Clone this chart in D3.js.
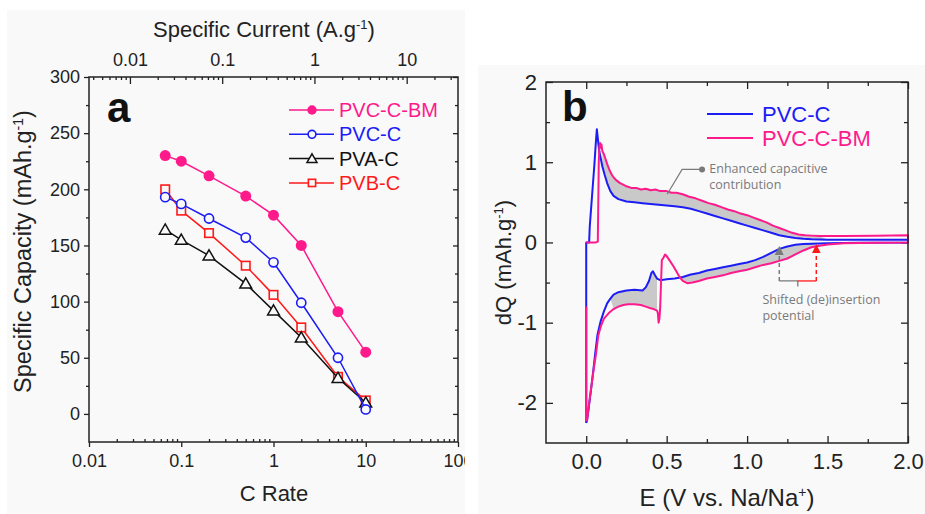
<!DOCTYPE html>
<html>
<head>
<meta charset="utf-8">
<script src="https://cdn.jsdelivr.net/npm/d3@7"></script>
<style>
  body { margin: 0; background: #fff; }
  svg { display: block; font-family: "Liberation Sans", Arial, sans-serif; }
</style>
</head>
<body>
<svg id="chart" width="925" height="514"></svg>
<script>
// ---- panel a: rate capability ----
const cRates = [0.067, 0.1, 0.2, 0.5, 1, 2, 5, 10];
const capBM = [230, 225, 212, 194, 177, 150, 91, 55];
const capPVC = [193, 187, 174, 157, 135, 99, 50, 4];
const capPVA = [164, 155, 141, 116, 92, 68, 32, 10];
const capPVB = [200, 181, 161, 132, 106, 77, 33, 12];
const rateTicks = [0.01, 0.1, 1, 10, 100];
const currentTicks = [0.01, 0.1, 1, 10];
const capTicks = [0, 50, 100, 150, 200, 250, 300];

// ---- panel b: dQ curves (E in V, dQ in mAh/g) ----
const pvcCharge = [[0, -2.25], [0, 0], [0.018, 0], [0.022, 0.2], [0.035, 0.55], [0.05, 0.95], [0.06, 1.25], [0.066, 1.41],
  [0.072, 1.3], [0.08, 1.15], [0.09, 1.05], [0.1, 0.95], [0.115, 0.84], [0.13, 0.74], [0.15, 0.64], [0.17, 0.58],
  [0.2, 0.54], [0.25, 0.51], [0.3, 0.5], [0.35, 0.49], [0.4, 0.48], [0.45, 0.47], [0.5, 0.46], [0.55, 0.45],
  [0.6, 0.44], [0.65, 0.42], [0.7, 0.39], [0.75, 0.36], [0.8, 0.33], [0.85, 0.3], [0.9, 0.27], [0.95, 0.24],
  [1.0, 0.21], [1.05, 0.18], [1.1, 0.15], [1.15, 0.12], [1.2, 0.09], [1.25, 0.07], [1.3, 0.055], [1.35, 0.045],
  [1.4, 0.04], [1.5, 0.035], [1.7, 0.035], [2.0, 0.035]];
const pvcDischarge = [[2.0, 0], [1.7, -0.005], [1.5, -0.01], [1.4, -0.015], [1.35, -0.02], [1.3, -0.03], [1.25, -0.05],
  [1.2, -0.08], [1.15, -0.13], [1.1, -0.18], [1.05, -0.22], [1.0, -0.25], [0.95, -0.27], [0.9, -0.29], [0.85, -0.31],
  [0.8, -0.33], [0.75, -0.35], [0.7, -0.38], [0.65, -0.4], [0.6, -0.43], [0.55, -0.45], [0.5, -0.46], [0.46, -0.47],
  [0.44, -0.45], [0.425, -0.4], [0.415, -0.36], [0.405, -0.38], [0.39, -0.48], [0.37, -0.56], [0.35, -0.6],
  [0.3, -0.59], [0.25, -0.6], [0.2, -0.62], [0.17, -0.65], [0.15, -0.7], [0.13, -0.76], [0.11, -0.86], [0.09, -0.98],
  [0.07, -1.15], [0.055, -1.4], [0.045, -1.58], [0.035, -1.75], [0.025, -1.91], [0.015, -2.07], [0.005, -2.22], [0, -2.25]];
const bmCharge = [[0, 0], [0.03, 0], [0.06, 0], [0.072, 0.01], [0.075, 0.5], [0.078, 1.0], [0.082, 1.2], [0.086, 1.24],
  [0.09, 1.18], [0.095, 1.22], [0.1, 1.14], [0.11, 1.1], [0.12, 1.04], [0.13, 0.98], [0.145, 0.9], [0.16, 0.84],
  [0.175, 0.8], [0.19, 0.77], [0.21, 0.74], [0.23, 0.72], [0.25, 0.7], [0.28, 0.68], [0.31, 0.68], [0.34, 0.66],
  [0.37, 0.67], [0.4, 0.65], [0.43, 0.66], [0.46, 0.64], [0.5, 0.64], [0.53, 0.62], [0.56, 0.62], [0.6, 0.6],
  [0.64, 0.57], [0.68, 0.55], [0.72, 0.52], [0.76, 0.49], [0.8, 0.47], [0.84, 0.44], [0.88, 0.41], [0.92, 0.39],
  [0.96, 0.36], [1.0, 0.34], [1.04, 0.31], [1.08, 0.28], [1.12, 0.25], [1.16, 0.21], [1.2, 0.18], [1.24, 0.15],
  [1.28, 0.12], [1.32, 0.1], [1.36, 0.09], [1.4, 0.085], [1.45, 0.08], [1.6, 0.08], [1.8, 0.085], [2.0, 0.09]];
const bmDischarge = [[2.0, 0], [1.8, -0.005], [1.6, -0.01], [1.5, -0.025], [1.45, -0.04], [1.4, -0.06], [1.35, -0.1],
  [1.3, -0.15], [1.25, -0.2], [1.2, -0.23], [1.15, -0.26], [1.1, -0.28], [1.05, -0.31], [1.0, -0.34], [0.95, -0.36],
  [0.9, -0.38], [0.85, -0.41], [0.8, -0.43], [0.75, -0.45], [0.7, -0.48], [0.66, -0.5], [0.63, -0.51], [0.6, -0.48],
  [0.58, -0.43], [0.56, -0.36], [0.54, -0.29], [0.52, -0.23], [0.5, -0.17], [0.49, -0.15], [0.48, -0.19], [0.47, -0.22],
  [0.465, -0.5], [0.46, -0.8], [0.455, -0.95], [0.45, -1.0], [0.445, -0.88], [0.44, -0.85], [0.42, -0.83], [0.4, -0.82],
  [0.37, -0.8], [0.34, -0.78], [0.3, -0.77], [0.26, -0.77], [0.23, -0.78], [0.2, -0.8], [0.17, -0.83], [0.14, -0.88],
  [0.11, -0.95], [0.09, -1.05], [0.075, -1.16], [0.06, -1.4], [0.045, -1.6], [0.035, -1.75], [0.025, -1.9],
  [0.014, -2.07], [0.005, -2.22], [0, -2.2], [0, -0.8]];
const eTicks = [0, 0.5, 1, 1.5, 2];
const dqTicks = [-2, -1, 0, 1, 2];

const pink = '#ff1a8c';
const blue = '#1c1cf5';
const red = '#ff1a1a';

const svg = d3.select('#chart');

// light panel backgrounds
svg.append('rect').attr('x', 7).attr('y', 10).attr('width', 458).attr('height', 504).attr('fill', '#f9f9f9');
svg.append('rect').attr('x', 478).attr('y', 65).attr('width', 447).attr('height', 449).attr('fill', '#f9f9f9');

// ================= panel a =================
const A = { left: 89, right: 458, top: 77, bottom: 442 };
const xA = d3.scaleLog().domain([0.01, 100]).range([A.left, A.right]);
const xTop = d3.scaleLog().domain([0.0036, 36]).range([A.left, A.right]);
const yA = d3.scaleLinear().domain([-25, 300]).range([A.bottom, A.top]);

svg.append('clipPath').attr('id', 'clipA')
  .append('rect').attr('x', 0).attr('y', 0).attr('width', 465).attr('height', 514);
const ga = svg.append('g').attr('clip-path', 'url(#clipA)');

function minorLog(scale) {
  const [a, b] = scale.domain();
  return scale.ticks().filter((t) => t > a && t < b && Math.abs(Math.log10(t) % 1) > 1e-6);
}

function styleAxis(g, size) {
  g.select('.domain').remove();
  g.selectAll('line').attr('stroke', '#222').attr('stroke-width', 1.3);
  g.selectAll('text').attr('font-size', size).attr('fill', '#222').attr('font-family', null);
}

// bottom
ga.append('g').attr('transform', `translate(0,${A.bottom})`)
  .call(d3.axisBottom(xA).tickValues(rateTicks).tickFormat(d3.format('~g')).tickSize(5).tickPadding(7))
  .call((g) => styleAxis(g, 18));
ga.append('g').attr('transform', `translate(0,${A.bottom})`)
  .call(d3.axisBottom(xA).tickValues(minorLog(xA)).tickFormat('').tickSize(-3))
  .call((g) => styleAxis(g, 18));
// top
ga.append('g').attr('transform', `translate(0,${A.top})`)
  .call(d3.axisTop(xTop).tickValues(currentTicks).tickFormat(d3.format('~g')).tickSize(-7).tickPadding(11))
  .call((g) => styleAxis(g, 18));
ga.append('g').attr('transform', `translate(0,${A.top})`)
  .call(d3.axisTop(xTop).tickValues(minorLog(xTop)).tickFormat('').tickSize(-3))
  .call((g) => styleAxis(g, 18));
// left
ga.append('g').attr('transform', `translate(${A.left},0)`)
  .call(d3.axisLeft(yA).tickValues(capTicks).tickSize(5).tickPadding(4))
  .call((g) => styleAxis(g, 18));
ga.append('g').attr('transform', `translate(${A.left},0)`)
  .call(d3.axisLeft(yA).tickValues(capTicks.slice(1).map((v) => v - 25)).tickFormat('').tickSize(3))
  .call((g) => styleAxis(g, 18));
// right
ga.append('g').attr('transform', `translate(${A.right},0)`)
  .call(d3.axisRight(yA).tickValues(capTicks).tickFormat('').tickSize(-5))
  .call((g) => styleAxis(g, 18));
ga.append('g').attr('transform', `translate(${A.right},0)`)
  .call(d3.axisRight(yA).tickValues(capTicks.slice(1).map((v) => v - 25)).tickFormat('').tickSize(-3))
  .call((g) => styleAxis(g, 18));

ga.append('rect').attr('x', A.left).attr('y', A.top)
  .attr('width', A.right - A.left).attr('height', A.bottom - A.top)
  .attr('fill', 'none').attr('stroke', '#222').attr('stroke-width', 1.5);

// axis titles
ga.append('text').attr('x', 264).attr('y', 37).attr('text-anchor', 'middle')
  .attr('font-size', 22).attr('fill', '#222')
  .call((t) => {
    t.append('tspan').text('Specific Current (A.g');
    t.append('tspan').attr('dy', -8).attr('font-size', 13).text('-1');
    t.append('tspan').attr('dy', 8).text(')');
  });
ga.append('text').attr('x', 274).attr('y', 501).attr('text-anchor', 'middle')
  .attr('font-size', 22).attr('fill', '#222').text('C Rate');
ga.append('text').attr('transform', `translate(31,${(A.top + A.bottom) / 2 - 8}) rotate(-90)`)
  .attr('text-anchor', 'middle').attr('font-size', 23.5).attr('fill', '#222')
  .call((t) => {
    t.append('tspan').text('Specific Capacity (mAh.g');
    t.append('tspan').attr('dy', -8).attr('font-size', 14).text('-1');
    t.append('tspan').attr('dy', 8).text(')');
  });
ga.append('text').attr('x', 107).attr('y', 122).attr('font-size', 42)
  .attr('font-weight', 'bold').attr('fill', '#111').text('a');

const seriesA = [
  { name: 'PVC-C-BM', values: capBM, color: pink, shape: 'dot' },
  { name: 'PVC-C', values: capPVC, color: blue, shape: 'circle' },
  { name: 'PVA-C', values: capPVA, color: '#111', shape: 'triangle' },
  { name: 'PVB-C', values: capPVB, color: red, shape: 'square' },
];

function drawMarker(g, shape, color, x, y, scale) {
  const k = scale || 1;
  if (shape === 'dot') {
    g.append('circle').attr('cx', x).attr('cy', y).attr('r', 5.5 * k).attr('fill', color);
  } else if (shape === 'circle') {
    g.append('circle').attr('cx', x).attr('cy', y).attr('r', 4.6 * k)
      .attr('fill', '#f9f9f9').attr('stroke', color).attr('stroke-width', 1.6);
  } else if (shape === 'square') {
    const s = 8.5 * k;
    g.append('rect').attr('x', x - s / 2).attr('y', y - s / 2).attr('width', s).attr('height', s)
      .attr('fill', '#f9f9f9').attr('stroke', color).attr('stroke-width', 1.6);
  } else {
    g.append('path').attr('d', d3.symbol(d3.symbolTriangle, 60 * k * k)())
      .attr('transform', `translate(${x},${y + 1})`)
      .attr('fill', '#f9f9f9').attr('stroke', color).attr('stroke-width', 1.5);
  }
}

const lineA = d3.line().x((d) => xA(d[0])).y((d) => yA(d[1]));
// draw back to front so PVC-C-BM sits on top
seriesA.slice().reverse().forEach((s) => {
  const pts = cRates.map((c, i) => [c, s.values[i]]);
  ga.append('path').attr('d', lineA(pts)).attr('fill', 'none')
    .attr('stroke', s.color).attr('stroke-width', 1.5);
  const mg = ga.append('g');
  pts.forEach((p) => drawMarker(mg, s.shape, s.color, xA(p[0]), yA(p[1])));
});

// legend a
seriesA.forEach((s, i) => {
  const y = 110 + i * 24.3;
  ga.append('line').attr('x1', 289).attr('x2', 334).attr('y1', y).attr('y2', y)
    .attr('stroke', s.color).attr('stroke-width', 1.5);
  drawMarker(ga, s.shape, s.color, 312, y, 0.85);
  ga.append('text').attr('x', 339).attr('y', y + 7).attr('font-size', 20)
    .attr('fill', s.color).text(s.name);
});

// ================= panel b =================
const B = { left: 546, right: 908, top: 82, bottom: 443 };
const xB = d3.scaleLinear().domain([-0.25, 2.0]).range([B.left, B.right]);
const yB = d3.scaleLinear().domain([-2.5, 2]).range([B.bottom, B.top]);
const gb = svg.append('g');

const eMinor = [0.25, 0.75, 1.25, 1.75];
const dqMinor = [-1.5, -0.5, 0.5, 1.5];
gb.append('g').attr('transform', `translate(0,${B.bottom})`)
  .call(d3.axisBottom(xB).tickValues(eTicks).tickFormat(d3.format('.1f')).tickSize(-7).tickPadding(10))
  .call((g) => styleAxis(g, 22));
gb.append('g').attr('transform', `translate(0,${B.bottom})`)
  .call(d3.axisBottom(xB).tickValues(eMinor).tickFormat('').tickSize(-4))
  .call((g) => styleAxis(g, 22));
gb.append('g').attr('transform', `translate(0,${B.top})`)
  .call(d3.axisTop(xB).tickValues(eTicks).tickFormat('').tickSize(-7))
  .call((g) => styleAxis(g, 22));
gb.append('g').attr('transform', `translate(0,${B.top})`)
  .call(d3.axisTop(xB).tickValues(eMinor).tickFormat('').tickSize(-4))
  .call((g) => styleAxis(g, 22));
gb.append('g').attr('transform', `translate(${B.left},0)`)
  .call(d3.axisLeft(yB).tickValues(dqTicks).tickFormat((d) => String(d)).tickSize(-7).tickPadding(9))
  .call((g) => styleAxis(g, 22));
gb.append('g').attr('transform', `translate(${B.left},0)`)
  .call(d3.axisLeft(yB).tickValues(dqMinor).tickFormat('').tickSize(-4))
  .call((g) => styleAxis(g, 22));
gb.append('g').attr('transform', `translate(${B.right},0)`)
  .call(d3.axisRight(yB).tickValues(dqTicks).tickFormat('').tickSize(-7))
  .call((g) => styleAxis(g, 22));
gb.append('g').attr('transform', `translate(${B.right},0)`)
  .call(d3.axisRight(yB).tickValues(dqMinor).tickFormat('').tickSize(-4))
  .call((g) => styleAxis(g, 22));

// grey shaded differences
const lineB = d3.line().x((d) => xB(d[0])).y((d) => yB(d[1]));
const within = (arr, lo, hi) => arr.filter((d) => d[0] >= lo && d[0] <= hi);
const shade = [
  within(bmCharge, 0.1, 1.5).concat(within(pvcCharge, 0.1, 1.5).reverse()),
  within(pvcDischarge, 0.15, 0.44).concat(within(bmDischarge, 0.15, 0.44).reverse()),
  within(pvcDischarge, 0.58, 1.45).concat(within(bmDischarge, 0.58, 1.45).reverse()),
];
shade.forEach((poly) => {
  gb.append('path').attr('d', lineB(poly) + 'Z').attr('fill', '#c9c9c9').attr('stroke', 'none');
});

gb.append('path').attr('d', lineB(pvcCharge.concat(pvcDischarge))).attr('fill', 'none')
  .attr('stroke', blue).attr('stroke-width', 2).attr('stroke-linejoin', 'round');
gb.append('path').attr('d', lineB(bmCharge.concat(bmDischarge))).attr('fill', 'none')
  .attr('stroke', pink).attr('stroke-width', 2).attr('stroke-linejoin', 'round');

gb.append('rect').attr('x', B.left).attr('y', B.top)
  .attr('width', B.right - B.left).attr('height', B.bottom - B.top)
  .attr('fill', 'none').attr('stroke', '#222').attr('stroke-width', 1.5);

// annotations
const annoGrey = '#7a7a7a';
const capLeader = [[0.72, 0.91], [0.596, 0.91], [0.503, 0.6]];
gb.append('path').attr('d', lineB(capLeader)).attr('fill', 'none')
  .attr('stroke', annoGrey).attr('stroke-width', 1.2);
gb.append('circle').attr('cx', xB(capLeader[0][0])).attr('cy', yB(capLeader[0][1])).attr('r', 3)
  .attr('fill', annoGrey);
gb.append('text').attr('x', xB(0.765)).attr('y', yB(0.86)).attr('font-family', '"Open Sans", sans-serif')
  .attr('font-size', 12.5).attr('fill', annoGrey)
  .call((t) => {
    t.append('tspan').text('Enhanced capacitive');
    t.append('tspan').attr('x', xB(0.765)).attr('dy', 16).text('contribution');
  });

const shiftFrom = 1.2;
const shiftTo = 1.43;
const shiftBase = -0.48;
svg.append('defs').call((d) => {
  [['arrGrey', annoGrey], ['arrRed', red]].forEach(([id, c]) => {
    d.append('marker').attr('id', id).attr('viewBox', '0 0 10 10').attr('refX', 5).attr('refY', 5)
      .attr('markerWidth', 6).attr('markerHeight', 6).attr('orient', 'auto')
      .append('path').attr('d', 'M0,0L10,5L0,10Z').attr('fill', c);
  });
});
gb.append('line').attr('x1', xB(shiftFrom)).attr('x2', xB(shiftFrom))
  .attr('y1', yB(shiftBase)).attr('y2', yB(-0.1))
  .attr('stroke', annoGrey).attr('stroke-width', 1.5).attr('stroke-dasharray', '4,3')
  .attr('marker-end', 'url(#arrGrey)');
gb.append('line').attr('x1', xB(shiftTo)).attr('x2', xB(shiftTo))
  .attr('y1', yB(shiftBase)).attr('y2', yB(-0.08))
  .attr('stroke', red).attr('stroke-width', 1.5).attr('stroke-dasharray', '4,3')
  .attr('marker-end', 'url(#arrRed)');
const shiftMid = (shiftFrom + shiftTo) / 2;
gb.append('path').attr('d', lineB([[shiftFrom, shiftBase], [shiftMid, shiftBase], [shiftMid, shiftBase - 0.07]]))
  .attr('fill', 'none').attr('stroke', annoGrey).attr('stroke-width', 1.3);
gb.append('path').attr('d', lineB([[shiftMid, shiftBase], [shiftTo, shiftBase]]))
  .attr('fill', 'none').attr('stroke', red).attr('stroke-width', 1.3);
gb.append('text').attr('x', xB(1.095)).attr('y', yB(-0.77)).attr('font-family', '"Open Sans", sans-serif')
  .attr('font-size', 12.5).attr('fill', annoGrey)
  .call((t) => {
    t.append('tspan').text('Shifted (de)insertion');
    t.append('tspan').attr('x', xB(1.095)).attr('dy', 16).text('potential');
  });

// legend b
[['PVC-C', blue], ['PVC-C-BM', pink]].forEach(([name, c], i) => {
  const y = 114 + i * 24;
  gb.append('line').attr('x1', 707).attr('x2', 753).attr('y1', y).attr('y2', y)
    .attr('stroke', c).attr('stroke-width', 2);
  gb.append('text').attr('x', 762).attr('y', y + 8).attr('font-size', 22).attr('fill', c).text(name);
});

gb.append('text').attr('x', 562).attr('y', 121).attr('font-size', 42)
  .attr('font-weight', 'bold').attr('fill', '#111').text('b');
gb.append('text').attr('x', 727).attr('y', 506).attr('text-anchor', 'middle')
  .attr('font-size', 24).attr('fill', '#222')
  .call((t) => {
    t.append('tspan').text('E (V vs. Na/Na');
    t.append('tspan').attr('dy', -9).attr('font-size', 14).text('+');
    t.append('tspan').attr('dy', 9).text(')');
  });
gb.append('text').attr('transform', `translate(511,${(B.top + B.bottom) / 2}) rotate(-90)`)
  .attr('text-anchor', 'middle').attr('font-size', 22).attr('fill', '#222')
  .call((t) => {
    t.append('tspan').text('dQ (mAh.g');
    t.append('tspan').attr('dy', -8).attr('font-size', 13).text('-1');
    t.append('tspan').attr('dy', 8).text(')');
  });
</script>
</body>
</html>
